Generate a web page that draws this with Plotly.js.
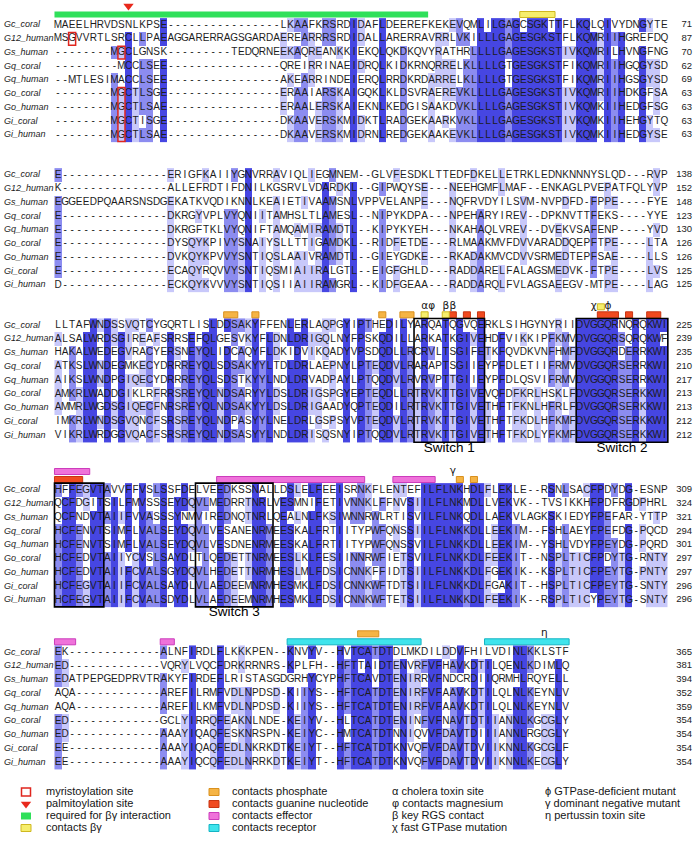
<!DOCTYPE html>
<html><head><meta charset="utf-8">
<script src="https://cdn.plot.ly/plotly-3.0.1.min.js"></script>
<style>body{margin:0;background:#fff}#chart{width:697px;height:841px}</style>
</head><body><div id="chart"></div>
<script>
// ---------------- DATA ----------------
const seqNames = ['Gc_coral','G12_human','Gs_human','Gq_coral','Gq_human','Go_coral','Go_human','Gi_coral','Gi_human'];

const seqBlock1 = [
 "MAEELHRVDSNLKPSE"+"----------------"+"LKAAFKRSRDI"+"DAFLDEEREFKEKEVQMLILGAGCSGKTTFLKQLQIVYDNGYTE",
 "MSGVVRTLSRCLLPAEAGGARERRAGSGARDAEREARRRSRDIDALLARERRAVRRLVKILLLGAGESGKSTFLKQMRIIHGREFDQ",
 "--------"+"MGCLGNSK"+"---------"+"TEDQRNEEKAQREANKKIEKQLQKDKQVYRATHRLLLLGAGESGKSTIVKQMRILHVNGFNG",
 "---------"+"MCCLSEE"+"----------------"+"QREIRRINAEI"+"DRQLKIDKRNQRRELKLLLLGTGESGKSTFIKQMRIIHGQGYSD",
 "--"+"MTLESIMACCLSEE"+"----------------"+"AKEARRINDEI"+"ERQLRRDKRDARRELKLLLLGTGESGKSTFIKQMRIIHGSGYSD",
 "--------"+"MGCTLSGE"+"----------------"+"ERAAIARSKAI"+"GQKLKLDSVRAEREVKLLLLGAGESGKSTIVKQMRIIHDKGFSA",
 "--------"+"MGCTLSAE"+"----------------"+"ERAALERSKAI"+"EKNLKEDGISAAKDVKLLLLGAGESGKSTIVKQMKIIHEDGFSG",
 "--------"+"MGCTISGE"+"----------------"+"DKAAVERSKMI"+"DKTLRADGEKAARKVKLLLLGAGESGKSTIVKQMKIIHEHGYTQ",
 "--------"+"MGCTLSAE"+"----------------"+"DKAAVERSKMI"+"DRNLREDGEKAAKEVKLLLLGAGESGKSTIVKQMKIIHEDGYSE"
];
const seqBlock2 = [
 "E"+"---------------"+"ERIGFKAIIYGNVRRAVIQLIEGMNEM"+"--"+"GLVFESDKLTTEDFDKELLETRKLEDNKNNNYSLQD"+"---"+"RVP",
 "K"+"---------------"+"ALLEFRDTIFDNILKGSRVLVDARDKL"+"--"+"GIPWQYSE"+"---"+"NEEHGMFLMAF"+"--"+"ENKAGLPVEPATFQLYVP",
 "EGGEEDPQAARSNSDGEKATKVQDIKNNLKEAIETIVAAMSNLVPPVELANPE"+"---"+"NQFRVDYILSVM"+"-"+"NVPDFD"+"-"+"FPPE"+"----"+"FYE",
 "E"+"---------------"+"DKRGYVPLVYQNIITAMHSLTLAMESL"+"--"+"NIPYKDPA"+"---"+"NPEHARYIREV"+"--"+"DPKNVTTFEKS"+"----"+"YYE",
 "E"+"---------------"+"DKRGFTKLVYQNIFTAMQAMIRAMDTL"+"--"+"KIPYKYEH"+"---"+"NKAHAQLVREV"+"--"+"DVEKVSAFENP"+"----"+"YVD",
 "E"+"---------------"+"DYSQYKPIVYSNAIYSLLTTIGAMDKL"+"--"+"RIDFETDE"+"---"+"RLMAAKMVFDVVARADDQEPFTPE"+"----"+"LTA",
 "E"+"---------------"+"DVKQYKPVVYSNTIQSLAAIVRAMDTL"+"--"+"GIEYGDKE"+"---"+"RKADAKMVCDVVSRMEDTEPFSAE"+"----"+"LLS",
 "E"+"---------------"+"ECAQYRQVVYSNTIQSMIAIIRALGTL"+"--"+"EIGFGHLD"+"---"+"RADDARELFALAGSMEDVK-FTPE"+"----"+"LVS",
 "D"+"---------------"+"ECKQYKVVVYSNTIQSIIAIIRAMGRL"+"--"+"KIDFGEAA"+"---"+"RADDARQLFVLAGSAEEGV-MTPE"+"----"+"LAG"
];
const seqBlock3 = [
 "LLTAFWNDSSVQTCYGQRTLISLDDSAKYFFENLERLAQPGYIPTHEDILYARQATQGVQERKLSIHGYNYRIIDVGGQRNQRQKWI",
 "ALSALWRDSGIREAFSRRSEFQLGESVKYFLDNLDRIGQLNYFPSKQDILLARKATKGIVEHDFVIKKIPFKMVDVGGQRSQRQKWF",
 "HAKALWEDEGVRACYERSNEYQLIDCAQYFLDKIDVIKQADYVPSDQDLLRCRVLTSGIFETKFQVDKVNFHMFDVGGQRDERRKWI",
 "ATKSLWNDEGMKECYDRRREYQLSDSAKYYLTDLDRLAEPNYLPTEQDVLRARAPTSGIIEYPFDLETIIFRMVDVGGQRSERRKWI",
 "AIKSLWNDPGIQECYDRRREYQLSDSTKYYLNDLDRVADPAYLPTQQDVLRVRVPTTGIIEYPFDLQSVIFRMVDVGGQRSERRKWI",
 "AMKRLWADDGIKLRFRRSREYQLNDSARYYLDSLDRIGSPGYEPTEQDLLRTRVKTTGIVEVQFDFKRLHSKLFDVGGQRSERKKWI",
 "AMMRLWGDSGIQECFNRSREYQLNDSAKYYLDSLDRIGAADYQPTEQDILRTRVKTTGIVETHFTFKNLHFRLFDVGGQRSERKKWI",
 "IMKRLWNDSGVQNCFSRSREYQLNDPASYYLNELDRLGSPSYVPTEQDVLRTRVKTTGIVETHFTFKDLHFKMFDVGGQRSERKKWI",
 "VIKRLWRDGGVQACFSRSREYQLNDSASYYLNDLDRISQSNYIPTQQDVLRTRVKTTGIVETHFTFKDLYFKMFDVGGQRSERKKWI"
];
const seqBlock4 = [
 "HFFEGVTAVVFFVSLSSFDELVEEDKSSNALLDSLELFEEISRNK"+"FLENTEFILFLNK"+"HDLFLEKLE--RSNLSACFPDYDG-ESNP",
 "QCFDGITSILFMVSSSEYDQVLMEDRRTNRLVESMNIFETIVNNKLFFNVSIILFLNKMDLLVEKVK--TVSIKKHFPDFRGDPHRL",
 "QCFNDVTAIIFVVASSSYNMVIREDNQTNRLQEALNLFKSIWNNRWLRTISVILFLNKQDLLAEKVLAGKSKIEDYFPEFAR-YTTP",
 "HCFENVTSIMFLVALSEYDQVLVESANENRMEESKALFRTIITYPWFQNSSIILFLNKKDLLEEKIM--FSHLAEYFPEFDG-PQCD",
 "HCFENVTSIMFLVALSEYDQVLVESDNENRMEESKALFRTIITYPWFQNSSVILFLNKKDLLEEKIM--YSHLVDYFPEYDG-PQRD",
 "HCFEDVTAIIYCVSLSAYDLTLQEDETTNRMEESLKLFESIINNRWFIETSVILFLNKKDLFEEKIT--NSPLTICFPDYTG-RNTY",
 "HCFEDVTAIIFCVALSGYDQVLHEDETTNRMHESLMLFDSICNNKFFIDTSIILFLNKKDLFGEKIK--KSPLTICFPEYTG-PNTY",
 "HCFEGVTAIIFCVALSAYDLVLAEDEEMNRMHESMKLFDSICNNKWFTDTSIILFLNKKDLFGAKIT--HSPLTICFPEYTG-SNTY",
 "HCFEGVTAIIFCVALSDYDLVLAEDEEMNRMHESMKLFDSICNNKWFTETSIILFLNKKDLFEEKIK--RSPLTICYPEYTG-SNTY"
];
const seqBlock5 = [
 "EK"+"-------------"+"ALNFIRDLFLKKKPEN"+"--"+"KNVYV"+"--"+"HVTCA"+"TDTDLMKDILDDVFHILVDINLKKLSTF",
 "ED"+"-------------"+"VQRYLVQCFDRKRRNRS"+"-"+"KPLFH"+"--"+"HFTTA"+"IDTENVRFVFHAVKDTILQENLKDIMLQ",
 "EDATPEPGEDPRVTRAKYFIRDEFLRISTASGDGRHYCYPHFTCA"+"VDTENIRRVFNDCRDIIQRMHLRQYELL",
 "AQA"+"------------"+"AREFILRMFVDLNPDSD"+"-"+"KIIYS"+"--"+"HFTCA"+"TDTENIRFVFAAVKDTILQLNLKEYNLV",
 "AQA"+"------------"+"AREFILKMFVDLNPDSD"+"-"+"KIIYS"+"--"+"HFTCA"+"TDTENIRFVFAAVKDTILQLNLKEYNLV",
 "ED"+"-------------"+"GCLYIRRQFEAKNLNDE"+"-"+"KEIYV"+"--"+"HLTCA"+"TDTENINFVFNAVTDTIIANNLKGCGLY",
 "ED"+"-------------"+"AAAYIQAQFESKNRSPN"+"-"+"KEIYC"+"--"+"HMTCA"+"TDTNNIQVVFDAVTDIIIANNLRGCGLY",
 "EE"+"-------------"+"AAAYIQAQFEDLNKRKDT"+"KEIYT"+"--"+"HFTCA"+"TDTKNVQFVFDAVTDVIIKNNLKGCGLF",
 "EE"+"-------------"+"AAAYIQCQFEDLNRRKDT"+"KEIYT"+"--"+"HFTCA"+"TDTKNVQFVFDAVTDVIIKNNLKECGLY"
];
const endNumbers = [
 [71,87,70,62,69,63,63,63,63],
 [138,152,148,123,130,126,126,125,125],
 [225,239,235,210,217,213,213,212,212],
 [309,324,321,294,301,297,297,296,296],
 [365,381,394,352,359,354,354,354,354]
];
// sequence features (block index, first column, last column, kind)
const featBlock = [0,0, 2,2,2,2,2,2,2,2,2,2,2,2,2, 3,3,3,3,3,3, 4,4,4,4,4];
const featKind  = ['green','yellow',
  'orange','orange','orange','orange','yellow','yellow','red','red','red','red','red','red','yellow',
  'pink','red','pink','pink','orange','orange',
  'pink','pink','cyan','cyan','orange'];
const featStart = [1,67, 25,29,47,50,53,56,57,59,61,78,82,85,78, 1,1,24,49,58,60, 1,16,34,62,44];
const featEnd   = [53,71, 26,29,47,51,53,56,57,59,61,80,82,86,78, 5,4,44,54,58,60, 3,17,52,73,46];
// greek site symbols
const symBlock = [2,2,2,2,2,2,3,4];
const symCol   = [53,54,56,57,77,79,57,70];
const symText  = ['α','φ','β','β','χ','ϕ','γ','η'];
// palmitoylation site (block, column)
const palmBlock = [0], palmCol = [11];
// myristoylation boxes (block, column, first row, last row)
const myrBlock = [0,0,0], myrCol = [3,10,10], myrRow0 = [1,2,5], myrRow1 = [1,2,8];
// switch regions
const swBlock = [2,2,3,3], swStart = [52,75,1,21], swEnd = [61,87,7,31];
const swLabel = ['Switch 1','Switch 2','','Switch 3'];
// legend
const legendLabels = ['myristoylation site','palmitoylation site','required for βγ interaction','contacts βγ',
  'contacts phosphate','contacts guanine nucleotide','contacts effector','contacts receptor',
  'α cholera toxin site','φ contacts magnesium','β key RGS contact','χ fast GTPase mutation',
  'ϕ GTPase-deficient mutant','γ dominant negative mutant','η pertussin toxin site'];
const legendKinds = ['myr','palm','green','yellow','orange','red','pink','cyan','','','','','','',''];

// ---------------- STYLE / LAYOUT ----------------
const W = 697, H = 841;
const X0 = 58, CW = 7.05, RH = 13.75;
const blockY = [25, 175, 325.3, 490, 652.3];
const consColors = ['#c8c8fa', '#8c8cf0', '#4646e2'];
const featFill = {green:'#2fe05a', yellow:'#f6ee6c', orange:'#f5b445', red:'#f04a20', pink:'#ef72da', cyan:'#3fe4ec'};
const featLine = {green:'#22c848', yellow:'#cfb820', orange:'#d9901e', red:'#c83412', pink:'#cc3cbc', cyan:'#14b4c4'};
const FONT = 'Liberation Sans, Arial, sans-serif';

const blocks = [seqBlock1, seqBlock2, seqBlock3, seqBlock4, seqBlock5];
const traces = [];
const shapes = [];
const errs = [];

blocks.forEach((blk, b) => {
  const n = blk[0].length;
  blk.forEach((s, r) => { if (s.length !== n) errs.push('B' + (b+1) + ' r' + r + ' len ' + s.length + '/' + n); });
  const ys = blk.map((_, r) => blockY[b] + r * RH);
  const xs = Array.from({length: n}, (_, i) => i + 1);
  const z = blk.map(() => new Array(n).fill(null));
  for (let c = 0; c < n; c++) {
    const cnt = {};
    blk.forEach(s => { const ch = s[c]; if (ch && ch !== '-') cnt[ch] = (cnt[ch] || 0) + 1; });
    let mx = 0; Object.values(cnt).forEach(v => { if (v > mx) mx = v; });
    const p = mx / blk.length;
    const lvl = p > 0.8 ? 3 : p > 0.6 ? 2 : p > 0.4 ? 1 : 0;
    if (lvl) blk.forEach((s, r) => { const ch = s[c]; if (ch !== '-' && cnt[ch] === mx) z[r][c] = lvl; });
  }
  traces.push({type:'heatmap', x: xs, y: ys, z: z, zmin: 0.5, zmax: 3.5, showscale: false, hoverinfo: 'skip',
    colorscale: [[0, consColors[0]], [0.3333, consColors[0]], [0.3333, consColors[1]], [0.6667, consColors[1]], [0.6667, consColors[2]], [1, consColors[2]]]});
  const tx = [], ty = [], tt = [];
  blk.forEach((s, r) => { for (let c = 0; c < s.length; c++) { tx.push(c + 1); ty.push(ys[r]); tt.push(s[c]); } });
  traces.push({type:'scatter', mode:'text', x: tx, y: ty, text: tt, textposition:'middle center', hoverinfo:'skip',
    textfont:{family: FONT, size: 10, color:'#1c1c1c'}, cliponaxis:false});
  traces.push({type:'scatter', mode:'text', xaxis:'x2', x: ys.map(() => 4), y: ys, text: seqNames, textposition:'middle right',
    hoverinfo:'skip', textfont:{family: FONT, size: 9, color:'#1c1c1c', style:'italic'}, cliponaxis:false});
  traces.push({type:'scatter', mode:'text', xaxis:'x2', x: ys.map(() => 692), y: ys, text: endNumbers[b].map(String), textposition:'middle left',
    hoverinfo:'skip', textfont:{family: FONT, size: 9.5, color:'#1c1c1c'}, cliponaxis:false});
});

// feature bars with tiering
const tierA = -18.5, tierB = -10.5, barH = 6;
const prio = ['red','cyan','pink','green','orange','yellow'];
const order = featKind.map((k, i) => i).sort((a, b) => prio.indexOf(featKind[a]) - prio.indexOf(featKind[b]) || a - b);
const placed = [];
order.forEach(i => {
  const b = featBlock[i];
  const clash = placed.some(p => p.b === b && p.t === 0 && !(featEnd[i] < p.s || featStart[i] > p.e));
  const t = clash ? 1 : 0;
  placed.push({b: b, s: featStart[i], e: featEnd[i], t: t});
  const yc = blockY[b] + (t ? tierA : tierB);
  const k = featKind[i];
  shapes.push({type:'rect', xref:'x', yref:'y', x0: featStart[i] - 0.5, x1: featEnd[i] + 0.5, y0: yc - barH/2, y1: yc + barH/2,
    fillcolor: featFill[k], line:{color: featLine[k], width: k === 'green' ? 0 : 1}});
});

traces.push({type:'scatter', mode:'text', x: symCol, y: symBlock.map(b => blockY[b] + tierA - 0.5), text: symText,
  textposition:'middle center', hoverinfo:'skip', textfont:{family: 'DejaVu Sans, sans-serif', size: 10.5, color:'#151515'}, cliponaxis:false});

traces.push({type:'scatter', mode:'markers', x: palmCol, y: palmBlock.map(b => blockY[b] - 19), hoverinfo:'skip',
  marker:{symbol:'triangle-down', size: 9, color:'#e8281c', line:{width:0}}, cliponaxis:false});

myrBlock.forEach((b, i) => {
  shapes.push({type:'rect', xref:'x', yref:'y', x0: myrCol[i] - 0.5, x1: myrCol[i] + 0.5,
    y0: blockY[b] + (myrRow0[i]) * RH - RH/2 + 0.5, y1: blockY[b] + (myrRow1[i]) * RH + RH/2 - 0.5,
    fillcolor:'rgba(0,0,0,0)', line:{color:'#e0261e', width: 1.5}});
});

swBlock.forEach((b, i) => {
  shapes.push({type:'rect', xref:'x', yref:'y', x0: swStart[i] - 0.5, x1: swEnd[i] + 0.5,
    y0: blockY[b] - RH/2, y1: blockY[b] + 8 * RH + RH/2, fillcolor:'rgba(0,0,0,0)', line:{color:'#000', width: 1.6}});
});
traces.push({type:'scatter', mode:'text', x: swStart.map((s, i) => (s + swEnd[i]) / 2), y: swBlock.map(b => blockY[b] + 8 * RH + 13),
  text: swLabel, textposition:'middle center', hoverinfo:'skip', textfont:{family: FONT, size: 13.5, color:'#000'}, cliponaxis:false});

// legend
const legColX = [26, 214, 392, 545];
const legTextX = [46, 232, 392, 545];
const legRowY0 = 792, legRowH = 12;
const legPerCol = [4, 4, 4, 3];
const lgTx = [], lgTy = [], lgT = [];
let idx = 0;
legPerCol.forEach((n, col) => {
  for (let j = 0; j < n; j++, idx++) {
    const y = legRowY0 + j * legRowH;
    lgTx.push(legTextX[col]); lgTy.push(y); lgT.push(legendLabels[idx]);
    const k = legendKinds[idx];
    const cx = legColX[col];
    if (k === 'myr') {
      shapes.push({type:'rect', xref:'x2', yref:'y', x0: cx - 4.5, x1: cx + 4.5, y0: y - 4, y1: y + 4, fillcolor:'rgba(0,0,0,0)', line:{color:'#e0261e', width: 1.5}});
    } else if (k === 'palm') {
      traces.push({type:'scatter', mode:'markers', xaxis:'x2', x:[cx], y:[y], hoverinfo:'skip', marker:{symbol:'triangle-down', size: 9, color:'#e8281c'}});
    } else if (k) {
      shapes.push({type:'rect', xref:'x2', yref:'y', x0: cx - 5, x1: cx + 5, y0: y - 3.5, y1: y + 3.5, fillcolor: featFill[k], line:{color: featLine[k], width: k === 'green' ? 0 : 1}});
    }
  }
});
traces.push({type:'scatter', mode:'text', xaxis:'x2', x: lgTx, y: lgTy, text: lgT, textposition:'middle right', hoverinfo:'skip',
  textfont:{family: FONT, size: 11, color:'#151515'}, cliponaxis:false});

const annotations = errs.length ? [{xref:'paper', yref:'paper', x:0.5, y:0.5, text: errs.join('<br>'), showarrow:false, font:{color:'red', size:14}, bgcolor:'#ff0'}] : [];

const layout = {
  width: W, height: H, margin:{l:0, r:0, t:0, b:0}, showlegend:false,
  paper_bgcolor:'#fff', plot_bgcolor:'#fff',
  xaxis:{range:[1 - X0 / CW, 1 + (W - X0) / CW], visible:false, fixedrange:true},
  xaxis2:{range:[0, W], overlaying:'x', visible:false, fixedrange:true},
  yaxis:{range:[H, 0], visible:false, fixedrange:true},
  shapes: shapes, annotations: annotations
};
Plotly.newPlot('chart', traces, layout, {staticPlot:true, displayModeBar:false});
</script>
</body></html>
